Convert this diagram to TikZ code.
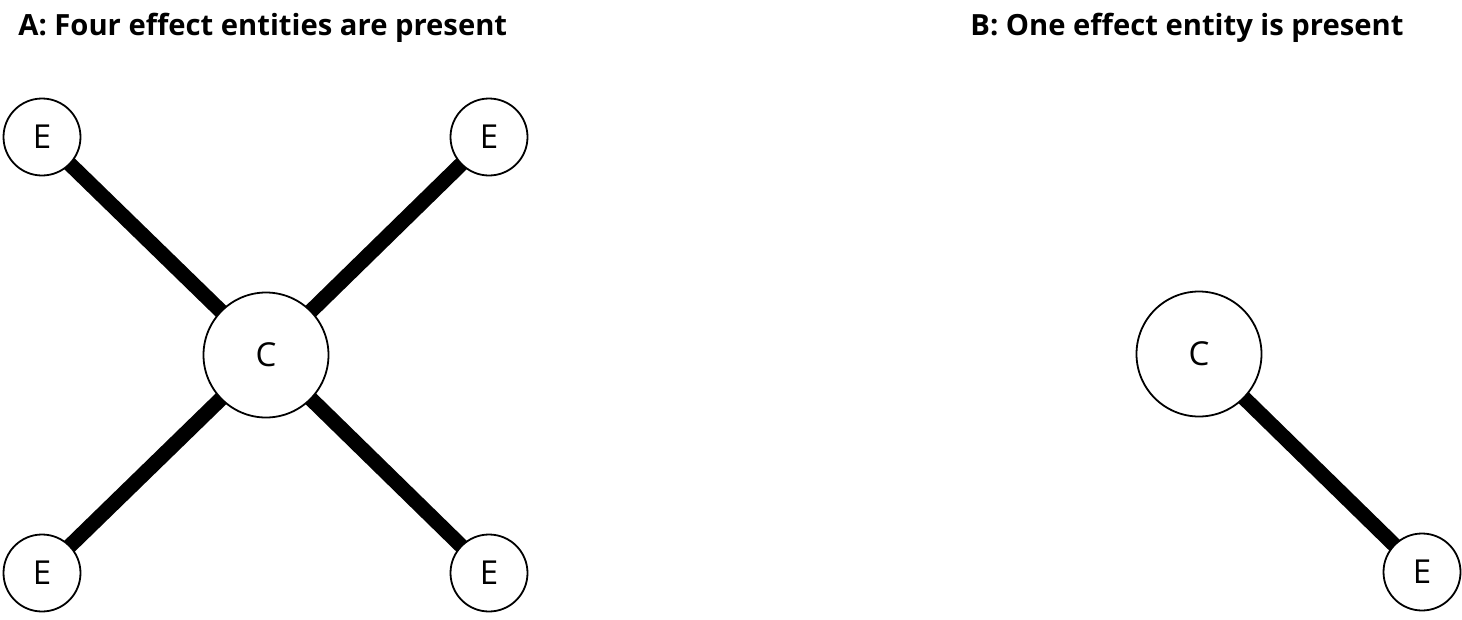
\documentclass[tikz,border=0pt]{standalone}
\usepackage{fontspec}
\setmainfont{Open Sans}
\usepackage{tikz}
\usetikzlibrary{calc}
\usetikzlibrary{positioning, backgrounds}
\begin{document}
\begin{tikzpicture}[-,x=1pt,y=-1pt,on grid,
                    thick,main node/.style={circle,draw,fill=white,line width=1.8pt,inner sep=0pt,font=\fontsize{33}{40}\selectfont},
                    big node/.style={main node,minimum size=125pt},
                    small node/.style={main node,minimum size=77pt},
                    title/.style={anchor=base west,inner sep=0pt,font=\fontsize{29.2}{34}\selectfont\bfseries}]

  \useasboundingbox (0,0) rectangle (1462,619);

  % panel A
  \node[title] (8) at (18,35) {A: Four effect entities are present};
  \node[big node] (1) at (266,355) {C};
  \node[small node] (2) [above left=218pt and 224pt of 1] {E};
  \node[small node] (3) [above right=218pt and 223pt of 1] {E};
  \node[small node] (4) [below left=218pt and 224pt of 1] {E};
  \node[small node] (5) [below right=218pt and 223pt of 1] {E};

  % panel B
  \node[title] (9) at (970,35) {B: One effect entity is present};
  \node[big node] (6) at (1199,354) {C};
  \node[small node] (7) [below right=218pt and 223pt of 6] {E};

  \begin{scope}[on background layer]
  \path[every edge/.style={draw,line width=15pt}]
    (1.center) edge (2.center)
    edge (3.center)
    edge (4.center)
    edge (5.center)
    (6.center) edge (7.center);
  \end{scope}

\end{tikzpicture}
\end{document}
